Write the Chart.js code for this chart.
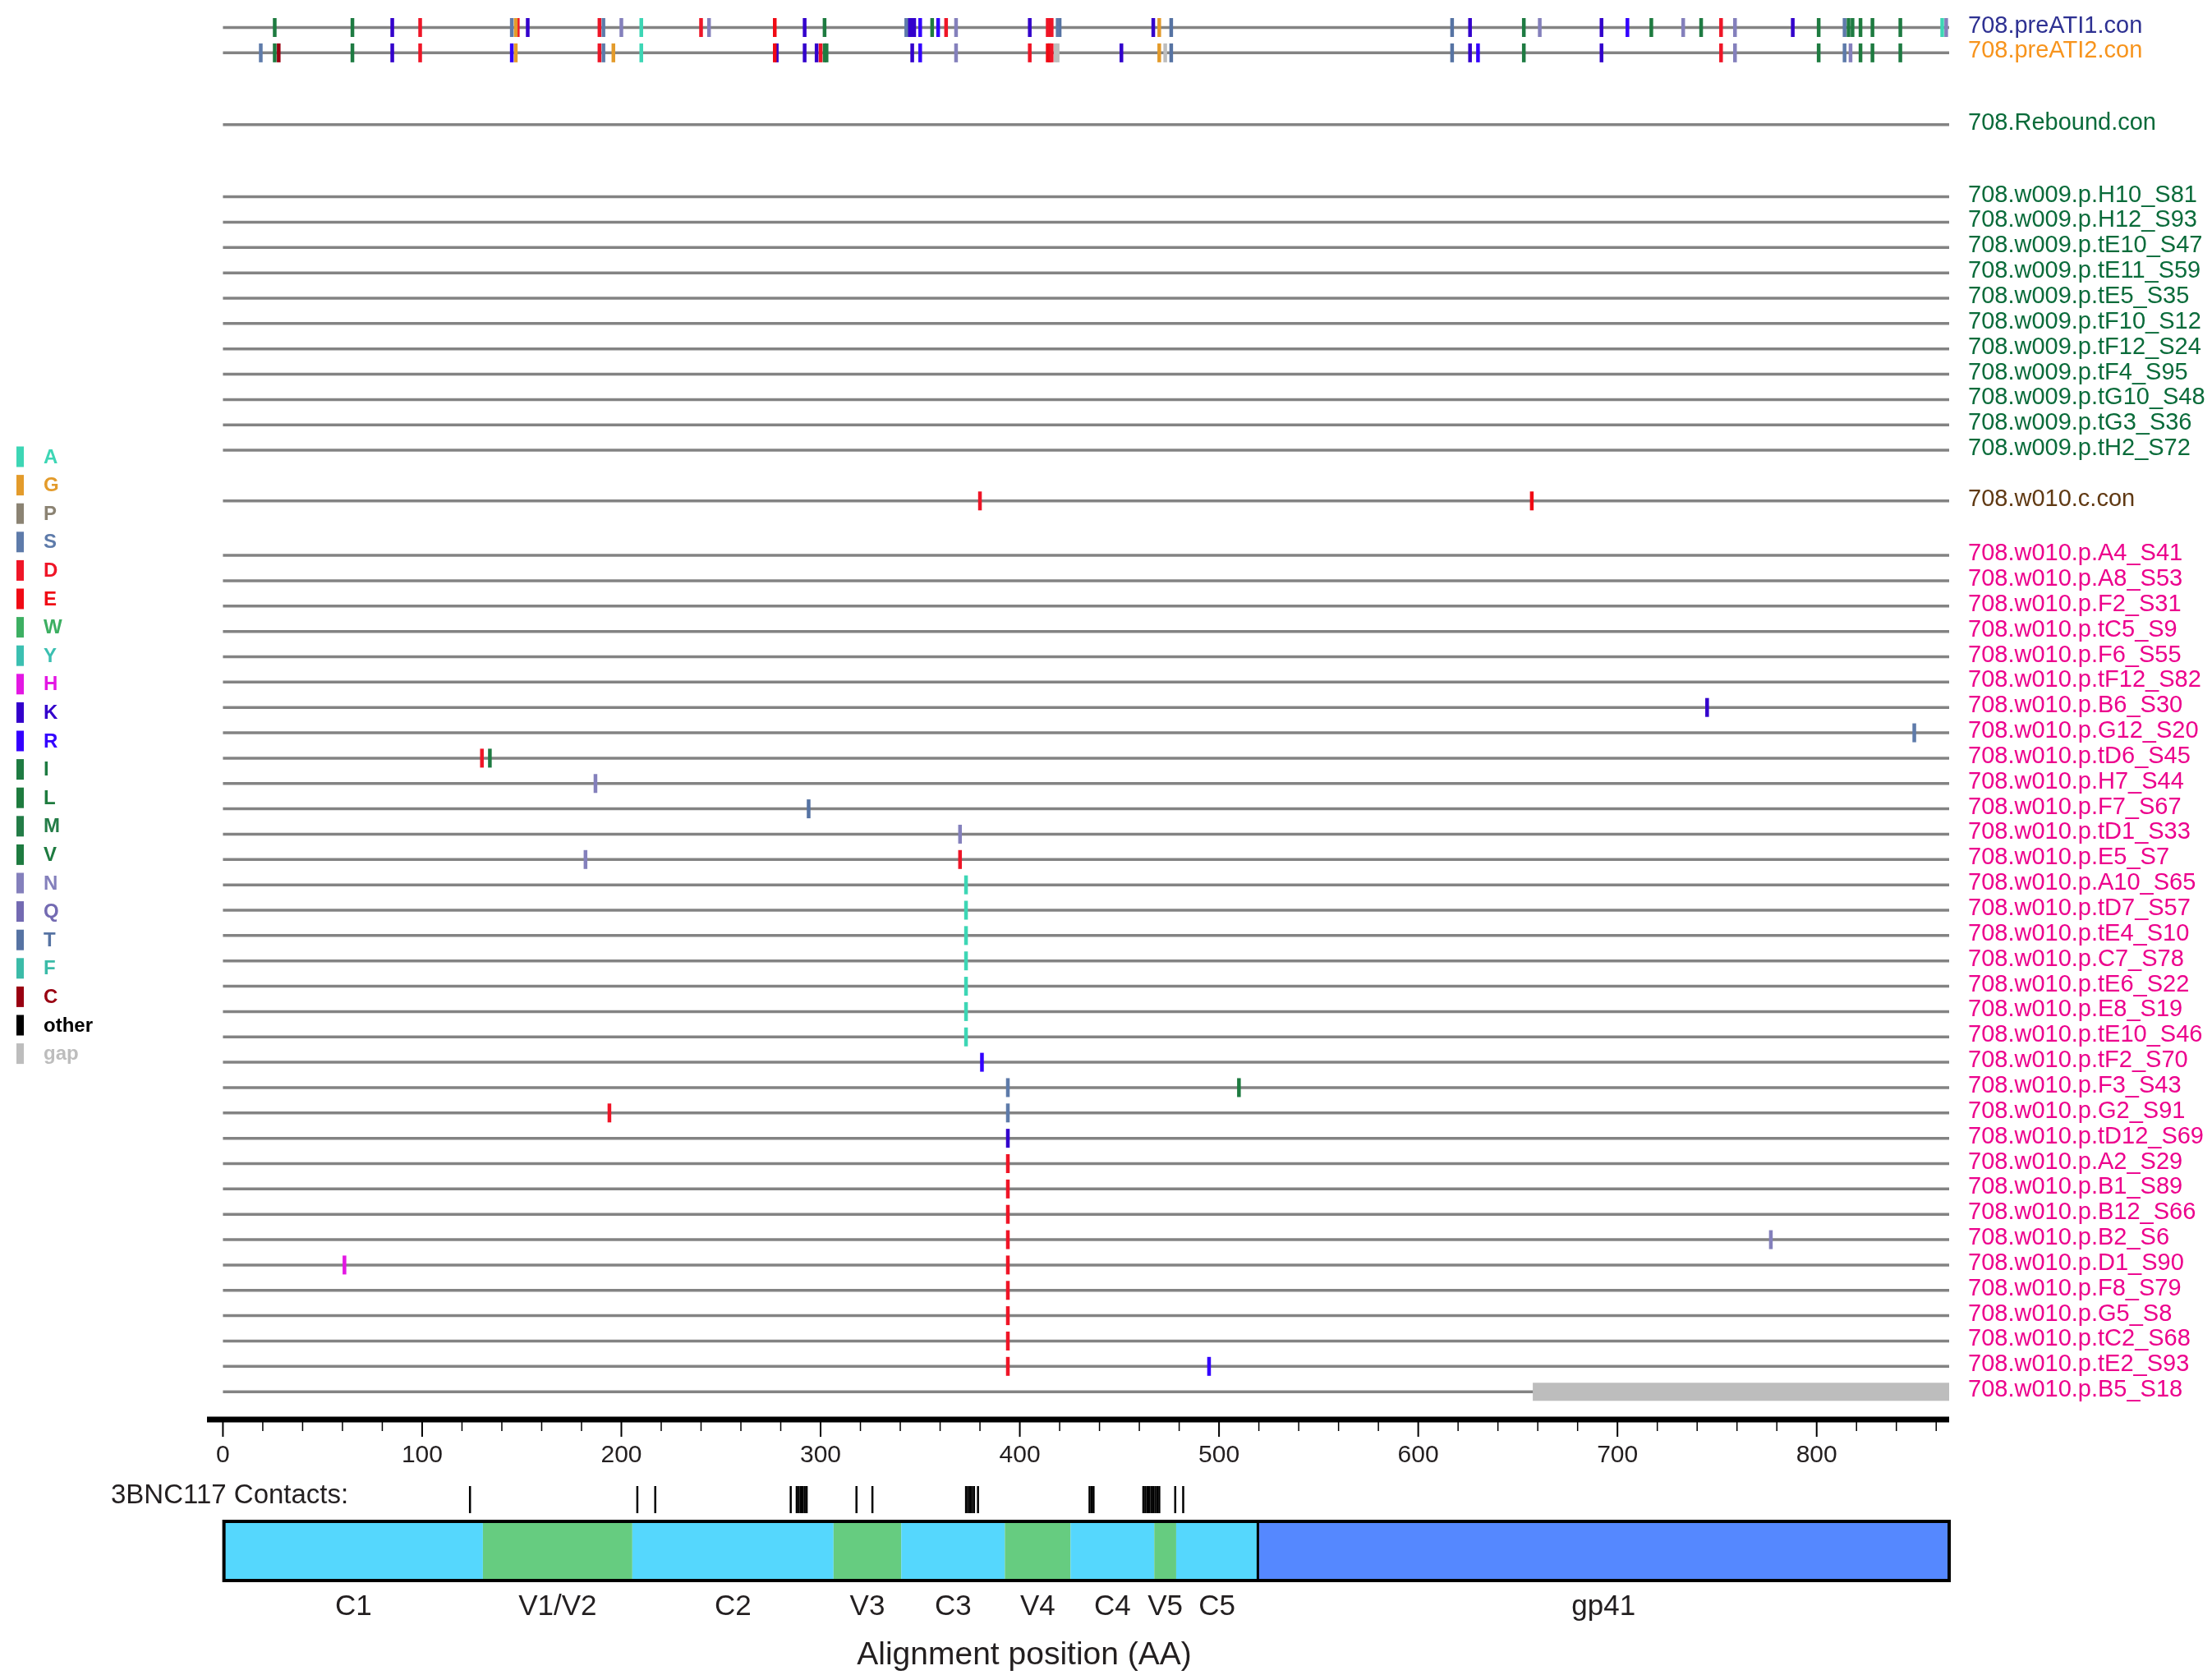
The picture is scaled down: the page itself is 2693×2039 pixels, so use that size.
<!DOCTYPE html>
<html>
<head>
<meta charset="utf-8">
<title>708 highlighter plot</title>
<script src="https://cdn.jsdelivr.net/npm/chart.js@4.4.1/dist/chart.umd.min.js"></script>
<style>
  html, body { margin: 0; padding: 0; background: #fff; }
  #wrap { width: 2693px; height: 2039px; position: relative; }
</style>
</head>
<body>
<div id="wrap"><canvas id="chart"></canvas></div>
<script>
// Sequences, top to bottom, one array per sample group
const PRE_ATI = ['708.preATI1.con', '708.preATI2.con'];
const REBOUND = ['708.Rebound.con'];
const W009 = [
  '708.w009.p.H10_S81', '708.w009.p.H12_S93', '708.w009.p.tE10_S47', '708.w009.p.tE11_S59',
  '708.w009.p.tE5_S35', '708.w009.p.tF10_S12', '708.w009.p.tF12_S24', '708.w009.p.tF4_S95',
  '708.w009.p.tG10_S48', '708.w009.p.tG3_S36', '708.w009.p.tH2_S72'
];
const W010_CON = ['708.w010.c.con'];
const W010_P = [
  '708.w010.p.A4_S41', '708.w010.p.A8_S53', '708.w010.p.F2_S31', '708.w010.p.tC5_S9',
  '708.w010.p.F6_S55', '708.w010.p.tF12_S82', '708.w010.p.B6_S30', '708.w010.p.G12_S20',
  '708.w010.p.tD6_S45', '708.w010.p.H7_S44', '708.w010.p.F7_S67', '708.w010.p.tD1_S33',
  '708.w010.p.E5_S7', '708.w010.p.A10_S65', '708.w010.p.tD7_S57', '708.w010.p.tE4_S10',
  '708.w010.p.C7_S78', '708.w010.p.tE6_S22', '708.w010.p.E8_S19', '708.w010.p.tE10_S46',
  '708.w010.p.tF2_S70', '708.w010.p.F3_S43', '708.w010.p.G2_S91', '708.w010.p.tD12_S69',
  '708.w010.p.A2_S29', '708.w010.p.B1_S89', '708.w010.p.B12_S66', '708.w010.p.B2_S6',
  '708.w010.p.D1_S90', '708.w010.p.F8_S79', '708.w010.p.G5_S8', '708.w010.p.tC2_S68',
  '708.w010.p.tE2_S93', '708.w010.p.B5_S18'
];
const ROW_GROUPS = [PRE_ATI, REBOUND, W009, W010_CON, W010_P];

const SEQ_LEN = 866;
const X_TICKS = [0, 100, 200, 300, 400, 500, 600, 700, 800];

// Residue legend
const RESIDUES = ['A', 'G', 'P', 'S', 'D', 'E', 'W', 'Y', 'H', 'K', 'R', 'I', 'L', 'M', 'V', 'N', 'Q', 'T', 'F', 'C', 'other', 'gap'];
const RESIDUE_COLORS = [
  '#3DD6B5', '#E39B2B', '#8B8373', '#5E7BAA', '#EF1527', '#F00A14', '#3DAF62', '#3BBFB1',
  '#E317E3', '#3300CC', '#3300FF', '#1E7B42', '#1E7B3E', '#237C47', '#1E7B40', '#8480BC',
  '#736AB2', '#5673A3', '#3BBBA8', '#990011', '#000000', '#BDBDBD'
];

// Differences from the reference, per sequence: [position, residue]
const MUTATIONS = [
  ['708.preATI1.con', [[26, 'V'], [65, 'I'], [85, 'K'], [99, 'D'], [145, 'S'], [147, 'G'], [148, 'D'], [153, 'K'],
    [189, 'D'], [191, 'S'], [200, 'N'], [210, 'A'], [240, 'D'], [244, 'N'], [277, 'E'], [292, 'K'], [302, 'V'],
    [343, 'S'], [344, 'K'], [345, 'K'], [346, 'K'], [347, 'K'], [350, 'R'], [356, 'V'], [359, 'R'], [363, 'D'],
    [368, 'N'], [405, 'K'], [414, 'D'], [415, 'E'], [416, 'D'], [419, 'S'], [420, 'T'], [467, 'K'], [470, 'G'],
    [476, 'T'], [617, 'T'], [626, 'K'], [653, 'I'], [661, 'N'], [692, 'K'], [705, 'R'], [717, 'V'], [733, 'N'],
    [742, 'I'], [752, 'D'], [759, 'N'], [788, 'K'], [801, 'V'], [814, 'S'], [816, 'V'], [818, 'I'], [822, 'L'],
    [828, 'V'], [842, 'I'], [863, 'A'], [865, 'N']]],
  ['708.preATI2.con', [[19, 'S'], [26, 'V'], [28, 'C'], [65, 'I'], [85, 'K'], [99, 'D'], [145, 'R'], [147, 'G'],
    [189, 'D'], [191, 'S'], [196, 'G'], [210, 'A'], [277, 'E'], [278, 'K'], [292, 'K'], [298, 'K'], [300, 'D'],
    [302, 'V'], [303, 'V'], [346, 'K'], [350, 'R'], [368, 'N'], [405, 'D'], [414, 'E'], [415, 'E'], [416, 'D'],
    [418, 'gap'], [419, 'gap'], [451, 'K'], [470, 'G'], [473, 'gap'], [476, 'T'], [617, 'T'], [626, 'K'],
    [630, 'R'], [653, 'I'], [692, 'K'], [752, 'D'], [759, 'N'], [801, 'V'], [814, 'S'], [817, 'N'], [822, 'L'],
    [828, 'V'], [842, 'I']]],
  ['708.w010.c.con', [[380, 'D'], [657, 'E']]],
  ['708.w010.p.B6_S30', [[745, 'K']]],
  ['708.w010.p.G12_S20', [[849, 'S']]],
  ['708.w010.p.tD6_S45', [[130, 'D'], [134, 'I']]],
  ['708.w010.p.H7_S44', [[187, 'N']]],
  ['708.w010.p.F7_S67', [[294, 'T']]],
  ['708.w010.p.tD1_S33', [[370, 'N']]],
  ['708.w010.p.E5_S7', [[182, 'N'], [370, 'D']]],
  ['708.w010.p.A10_S65', [[373, 'A']]],
  ['708.w010.p.tD7_S57', [[373, 'A']]],
  ['708.w010.p.tE4_S10', [[373, 'A']]],
  ['708.w010.p.C7_S78', [[373, 'A']]],
  ['708.w010.p.tE6_S22', [[373, 'A']]],
  ['708.w010.p.E8_S19', [[373, 'A']]],
  ['708.w010.p.tE10_S46', [[373, 'A']]],
  ['708.w010.p.tF2_S70', [[381, 'R']]],
  ['708.w010.p.F3_S43', [[394, 'S'], [510, 'V']]],
  ['708.w010.p.G2_S91', [[194, 'D'], [394, 'S']]],
  ['708.w010.p.tD12_S69', [[394, 'K']]],
  ['708.w010.p.A2_S29', [[394, 'D']]],
  ['708.w010.p.B1_S89', [[394, 'D']]],
  ['708.w010.p.B12_S66', [[394, 'D']]],
  ['708.w010.p.B2_S6', [[394, 'D'], [777, 'N']]],
  ['708.w010.p.D1_S90', [[61, 'H'], [394, 'D']]],
  ['708.w010.p.F8_S79', [[394, 'D']]],
  ['708.w010.p.G5_S8', [[394, 'D']]],
  ['708.w010.p.tC2_S68', [[394, 'D']]],
  ['708.w010.p.tE2_S93', [[394, 'D'], [495, 'R']]]
];
// Stretches of gap: [sequence, first position, last position]
const GAP_SPANS = [['708.w010.p.B5_S18', 658, 866]];

// 3BNC117 contact positions
const CONTACTS = [124, 208, 217, 285, 288, 289, 290, 291, 292, 293, 318, 326, 373, 374, 375, 376, 377, 379,
  435, 436, 437, 462, 463, 464, 465, 466, 467, 468, 469, 470, 478, 482];

// Env regions
const REGION_NAMES = ['C1', 'V1/V2', 'C2', 'V3', 'C3', 'V4', 'C4', 'V5', 'C5', 'gp41'];
const REGION_START = [1, 131, 206, 307, 341, 393, 426, 468, 479, 520];
const REGION_END = [130, 205, 306, 340, 392, 425, 467, 478, 519, 866];

// Layout
const FONT = '"Liberation Sans", Arial, Helvetica, sans-serif';
const ROW_GAPS = [2.83, 2.85, 2.0, 2.15];   // spacing between groups, in rows
const ROW_PX = 30.85;
const FIRST_ROW_PX = 33.5;
const PLOT_BOTTOM = 1728;
const LINE_GREY = '#838383';

function labelColor(name) {
  if (name.includes('preATI1')) return '#2E3192';
  if (name.includes('preATI2')) return '#F7941D';
  if (name.includes('w010.c')) return '#603913';
  if (name.includes('w010.p')) return '#EC008C';
  return '#0A6B3A';
}

function regionColor(name) {
  if (name === 'gp41') return '#5588FF';
  return name.startsWith('V') ? '#66CC80' : '#55D7FD';
}

// Row positions (in rows, 0 = top)
const rowNames = [];
const rowPos = [];
let pos = -1;
ROW_GROUPS.forEach((group, gi) => {
  group.forEach((name, i) => {
    pos += (i === 0 && gi > 0) ? ROW_GAPS[gi - 1] : 1;
    rowNames.push(name);
    rowPos.push(pos);
  });
});
const rowY = name => rowPos[rowNames.indexOf(name)];

const yMin = -FIRST_ROW_PX / ROW_PX;
const yMax = yMin + PLOT_BOTTOM / ROW_PX;

// Datasets
const rowLines = rowNames.map((name, i) => ({
  type: 'line',
  label: name,
  data: [{ x: 0, y: rowPos[i] }, { x: SEQ_LEN + 0.5, y: rowPos[i] }],
  borderColor: LINE_GREY,
  borderWidth: 3.5,
  pointRadius: 0,
  showLine: true,
  fill: false,
  order: 10
}));

const gapBars = GAP_SPANS.map(([name, from, to]) => ({
  type: 'line',
  label: name + ' gap',
  data: [{ x: from - 0.5, y: rowY(name) }, { x: to + 0.5, y: rowY(name) }],
  borderColor: RESIDUE_COLORS[RESIDUES.indexOf('gap')],
  borderWidth: 22,
  borderCapStyle: 'butt',
  pointRadius: 0,
  showLine: true,
  fill: false,
  order: 5
}));

const markSets = RESIDUES.map((res, k) => {
  const pts = [];
  MUTATIONS.forEach(([name, list]) => {
    list.forEach(([p, aa]) => {
      if (aa === res) pts.push({ x: p, y: rowY(name) });
    });
  });
  return {
    type: 'scatter',
    label: res,
    data: pts,
    showLine: false,
    pointStyle: 'line',
    pointRotation: 90,
    pointRadius: 11.5,
    pointBorderWidth: 4.5,
    pointBorderColor: RESIDUE_COLORS[k],
    pointBackgroundColor: RESIDUE_COLORS[k],
    order: 0
  };
});

// Axis ticks, contacts, region bar, legend
const overlayPlugin = {
  id: 'overlay',
  afterDraw(chart) {
    const { ctx, chartArea: area, scales: { x } } = chart;
    const px = v => x.getPixelForValue(v);
    ctx.save();

    // thick axis line with major/minor ticks
    ctx.fillStyle = '#000';
    ctx.fillRect(area.left, area.bottom - 3.5, area.right - area.left, 7);
    for (let v = 0; v <= SEQ_LEN; v += 20) {
      const major = v % 100 === 0;
      const w = major ? 2 : 1.5;
      ctx.fillRect(px(v) - w / 2, area.bottom + 3, w, major ? 18 : 11);
    }

    // contacts
    ctx.fillStyle = '#231F20';
    ctx.font = '33px ' + FONT;
    ctx.textAlign = 'left';
    ctx.textBaseline = 'middle';
    ctx.fillText('3BNC117 Contacts:', 135, 1821);
    ctx.fillStyle = '#000';
    CONTACTS.forEach(p => {
      const x0 = px(p - 0.5);
      const x1 = px(p + 0.5);
      ctx.fillRect(x0, 1809, Math.max(x1 - x0, 2.5), 33);
    });

    // region bar
    const barTop = 1852;
    const barH = 72;
    REGION_NAMES.forEach((name, i) => {
      const x0 = px(REGION_START[i] - 0.5);
      const x1 = px(REGION_END[i] + 0.5);
      ctx.fillStyle = regionColor(name);
      ctx.fillRect(x0, barTop, x1 - x0, barH);
    });
    const left = px(REGION_START[0] - 0.5);
    const right = px(REGION_END[REGION_END.length - 1] + 0.5);
    ctx.strokeStyle = '#000';
    ctx.lineWidth = 4;
    ctx.strokeRect(left, barTop, right - left, barH);
    const gp41 = px(REGION_START[REGION_NAMES.indexOf('gp41')] - 0.5);
    ctx.lineWidth = 3;
    ctx.beginPath();
    ctx.moveTo(gp41, barTop);
    ctx.lineTo(gp41, barTop + barH);
    ctx.stroke();

    ctx.fillStyle = '#231F20';
    ctx.font = '35px ' + FONT;
    ctx.textAlign = 'center';
    REGION_NAMES.forEach((name, i) => {
      ctx.fillText(name, px((REGION_START[i] + REGION_END[i]) / 2), 1956);
    });

    // axis title
    ctx.font = '39px ' + FONT;
    ctx.fillText('Alignment position (AA)', 1247, 2015);

    // residue legend
    ctx.textAlign = 'left';
    ctx.font = 'bold 24px ' + FONT;
    RESIDUES.forEach((res, i) => {
      const cy = 556 + i * 34.6;
      ctx.fillStyle = RESIDUE_COLORS[i];
      ctx.fillRect(20, cy - 12.5, 9, 25);
      ctx.fillText(res, 53, cy + 1);
    });

    ctx.restore();
  }
};

new Chart(document.getElementById('chart'), {
  type: 'scatter',
  data: { datasets: [...rowLines, ...gapBars, ...markSets] },
  options: {
    responsive: true,
    maintainAspectRatio: false,
    animation: false,
    events: [],
    layout: { autoPadding: false, padding: { left: 252, right: 0, top: 0, bottom: 0 } },
    plugins: { legend: { display: false }, tooltip: { enabled: false } },
    scales: {
      x: {
        type: 'linear',
        position: 'bottom',
        min: -8,
        max: SEQ_LEN + 0.5,
        grid: { display: false, drawTicks: false },
        border: { display: false },
        afterBuildTicks: axis => { axis.ticks = X_TICKS.map(v => ({ value: v })); },
        afterFit: axis => {
          axis.height = 2039 - PLOT_BOTTOM;
          axis.paddingLeft = 0;
          axis.paddingRight = 0;
        },
        ticks: {
          autoSkip: false,
          maxRotation: 0,
          padding: 26,
          color: '#231F20',
          font: { family: FONT, size: 30 },
          callback: v => String(v)
        }
      },
      y: {
        type: 'linear',
        position: 'right',
        reverse: true,
        min: yMin,
        max: yMax,
        grid: { display: false, drawTicks: false },
        border: { display: false },
        afterBuildTicks: axis => { axis.ticks = rowPos.map(v => ({ value: v })); },
        afterFit: axis => {
          axis.width = 320;
          axis.paddingTop = 0;
          axis.paddingBottom = 0;
        },
        ticks: {
          autoSkip: false,
          padding: 23,
          labelOffset: -2,
          font: { family: FONT, size: 29 },
          color: ctx => labelColor(rowNames[ctx.index]),
          callback: (v, i) => rowNames[i]
        }
      }
    }
  },
  plugins: [overlayPlugin]
});
</script>
</body>
</html>
